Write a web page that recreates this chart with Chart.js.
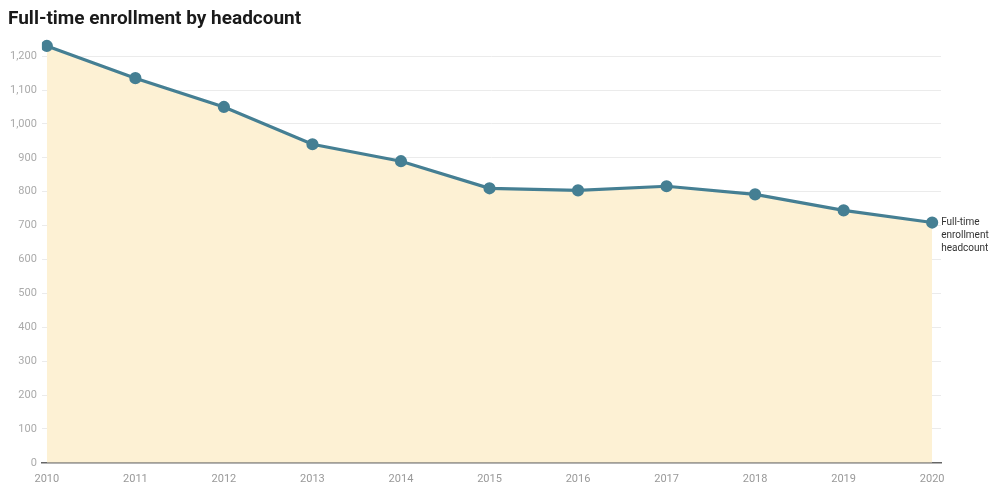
<!DOCTYPE html>
<html>
<head>
<meta charset="utf-8">
<script src="https://cdn.jsdelivr.net/npm/chart.js@4"></script>
<style>
  html, body { margin: 0; padding: 0; background: #fff; }
  #wrap { width: 999px; height: 491px; }
</style>
</head>
<body>
<div id="wrap"><canvas id="enrollChart" width="999" height="491"></canvas></div>
<script>
const years = [2010, 2011, 2012, 2013, 2014, 2015, 2016, 2017, 2018, 2019, 2020];
const headcount = [1230, 1135, 1050, 940, 890, 810, 804, 816, 792, 745, 709];
const yTicks = [0, 100, 200, 300, 400, 500, 600, 700, 800, 900, 1000, 1100, 1200];
const seriesLabel = ['Full-time', 'enrollment', 'headcount'];

const endLabel = {
    id: 'endLabel',
    afterDatasetsDraw(chart) {
        const meta = chart.getDatasetMeta(0);
        const last = meta.data[meta.data.length - 1];
        if (!last) return;
        const ctx = chart.ctx;
        ctx.save();
        ctx.font = '10px Roboto, "Open Sans", sans-serif';
        ctx.fillStyle = '#333';
        ctx.textBaseline = 'middle';
        ctx.textAlign = 'left';
        seriesLabel.forEach((line, i) => ctx.fillText(line, last.x + 9, last.y + i * 13));
        ctx.restore();
    }
};

new Chart(document.getElementById('enrollChart'), {
    type: 'line',
    data: {
        datasets: [{
            label: 'Full-time enrollment headcount',
            data: years.map((y, i) => ({ x: y, y: headcount[i] })),
            borderColor: '#457f93',
            backgroundColor: '#fdf1d4',
            pointBackgroundColor: '#457f93',
            pointBorderColor: '#457f93',
            pointRadius: 4.5,
            borderWidth: 3.2,
            fill: 'origin',
            tension: 0
        }]
    },
    options: {
        responsive: false,
        animation: false,
        layout: { padding: { left: 8, right: 58, top: 0, bottom: 3 } },
        plugins: {
            legend: { display: false },
            tooltip: { enabled: false },
            title: {
                display: true,
                text: 'Full-time enrollment by headcount',
                align: 'start',
                color: '#1a1a1a',
                font: { family: 'Roboto, sans-serif', size: 19, weight: 'bold' },
                padding: { top: 8, bottom: 5 }
            }
        },
        scales: {
            x: {
                type: 'linear',
                min: 2009.944,
                max: 2020.1,
                grid: { display: false },
                border: { display: true, color: '#666', width: 1.5 },
                ticks: {
                    stepSize: 1,
                    includeBounds: false,
                    color: '#999',
                    font: { family: 'Roboto, sans-serif', size: 11 },
                    padding: 2,
                    maxRotation: 0,
                    callback: v => String(v)
                }
            },
            y: {
                min: 0,
                max: 1260,
                afterBuildTicks: axis => { axis.ticks = yTicks.map(v => ({ value: v })); },
                grid: {
                    color: c => c.tick && c.tick.value === 0 ? 'rgba(0,0,0,0)' : '#ebebeb',
                    tickLength: 3,
                    tickColor: 'rgba(0,0,0,0)'
                },
                border: { display: false },
                ticks: {
                    color: '#aaa',
                    font: { family: 'Roboto, sans-serif', size: 11 },
                    padding: 2,
                    callback: v => v.toLocaleString('en-US')
                }
            }
        }
    },
    plugins: [endLabel]
});
</script>
</body>
</html>
